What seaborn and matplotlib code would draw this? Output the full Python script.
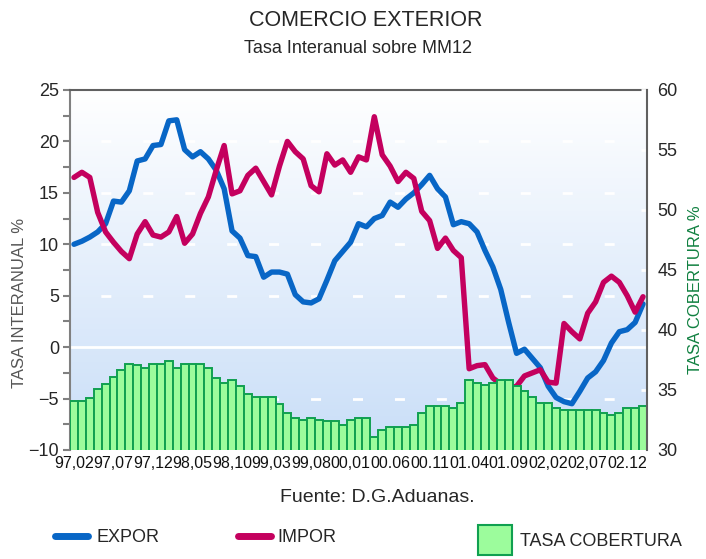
import numpy as np
import matplotlib
matplotlib.use("Agg")
import matplotlib.pyplot as plt
import seaborn as sns
from matplotlib import font_manager
from matplotlib.colors import LinearSegmentedColormap
from matplotlib.lines import Line2D
from matplotlib.patches import Patch

# monthly series, 97.02 .. 03.02
tick_labels = ["97,02", "97,07", "97,12", "98,05", "98,10", "99,03", "99,08", "00,01",
               "00.06", "00.11", "01.04", "01.09", "02,02", "02,07", "02.12"]

expor = [10.0, 10.3, 10.7, 11.2, 12.0, 14.2, 14.1, 15.2, 18.1, 18.3,
         19.6, 19.7, 22.0, 22.1, 19.2, 18.5, 19.0, 18.3, 17.2, 15.4,
         11.3, 10.6, 8.9, 8.8, 6.8, 7.3, 7.3, 7.1, 5.1, 4.4,
         4.3, 4.7, 6.5, 8.4, 9.3, 10.2, 12.0, 11.7, 12.5, 12.8,
         14.1, 13.6, 14.4, 15.0, 15.8, 16.7, 15.4, 14.6, 11.9, 12.2,
         12.0, 11.2, 9.4, 7.8, 5.6, 2.4, -0.6, -0.2, -1.1, -2.0,
         -3.8, -4.9, -5.3, -5.5, -4.3, -3.0, -2.4, -1.3, 0.4, 1.5,
         1.7, 2.4, 4.2]

impor = [16.5, 17.0, 16.5, 13.1, 11.2, 10.2, 9.3, 8.6, 11.0, 12.2,
         10.9, 10.7, 11.2, 12.7, 10.1, 11.0, 13.0, 14.6, 17.2, 19.6,
         14.9, 15.2, 16.7, 17.4, 16.1, 14.8, 17.6, 20.0, 19.0, 18.3,
         15.7, 15.1, 18.8, 17.7, 18.2, 17.0, 18.5, 18.2, 22.4, 18.7,
         17.6, 16.1, 17.0, 16.4, 13.2, 12.3, 9.6, 10.6, 9.4, 8.7,
         -2.1, -1.8, -1.7, -3.0, -3.6, -4.0, -3.8, -2.8, -2.5, -2.2,
         -3.4, -3.5, 2.3, 1.5, 0.8, 3.3, 4.4, 6.3, 6.9, 6.3,
         5.0, 3.4, 4.9]

cobertura = [34.1, 34.1, 34.3, 35.1, 35.5, 36.1, 36.7, 37.2, 37.1, 36.8,
             37.2, 37.2, 37.4, 36.8, 37.2, 37.2, 37.2, 36.8, 36.0, 35.6,
             35.8, 35.3, 34.7, 34.4, 34.4, 34.4, 33.8, 33.1, 32.7, 32.5,
             32.7, 32.5, 32.4, 32.4, 32.1, 32.5, 32.7, 32.7, 31.1, 31.7,
             31.9, 31.9, 31.9, 32.1, 33.1, 33.7, 33.7, 33.7, 33.5, 33.9,
             35.8, 35.6, 35.4, 35.6, 35.8, 35.8, 35.3, 34.9, 34.4, 33.9,
             33.9, 33.5, 33.3, 33.3, 33.3, 33.3, 33.3, 33.1, 32.9, 33.1,
             33.5, 33.5, 33.7]

blue = "#0866C6"
red = "#C4005E"
bar_fill = "#9CFC9C"
bar_edge = "#10A050"

sns.set_style("white")
names = {f.name for f in font_manager.fontManager.ttflist}
narrow = "Liberation Sans Narrow" if "Liberation Sans Narrow" in names else "Liberation Sans"
plt.rcParams["font.family"] = ["Liberation Sans", "DejaVu Sans"]

idx = np.arange(len(expor))

fig = plt.figure(figsize=(7.06, 5.59), dpi=100)
ax = fig.add_axes([0.0992, 0.195, 0.8172, 0.644])
ax2 = ax.twinx()

# gradient background of the plot area
cmap = LinearSegmentedColormap.from_list("bg", ["#C9DEF8", "#FFFFFF"])
ax.imshow(np.linspace(1, 0, 200).reshape(-1, 1), cmap=cmap, extent=[0, 1, 0, 1],
          transform=ax.transAxes, aspect="auto", zorder=0)

# grid
for v in [20, 15, 10, 5, -5]:
    ax.axhline(v, color="white", lw=2, ls=(4, (3.6, 11.5)), zorder=1)
ax.axhline(0, color="white", lw=2, zorder=1)

sns.lineplot(x=idx, y=expor, ax=ax, color=blue, lw=3.9, zorder=3,
             solid_joinstyle="round")
sns.lineplot(x=idx, y=impor, ax=ax, color=red, lw=3.9, zorder=3,
             solid_joinstyle="round")

# coverage bars on the right axis, drawn over the lines as in the original
sns.barplot(x=idx, y=cobertura, ax=ax2, color=bar_fill, edgecolor=bar_edge,
            linewidth=1.4, width=1.0, saturation=1)

ax.set_ylim(-10, 25)
ax2.set_ylim(30, 60)
ax.set_xlim(-0.5, len(idx) - 0.5)
ax.set_xticks(range(0, 71, 5))
ax.set_xticklabels(tick_labels, fontfamily=narrow, fontsize=11.5)
ax.set_yticks(range(-10, 26, 5))
ax.set_yticks(np.arange(-10, 25.1, 2.5), minor=True)
ax2.set_yticks(range(30, 61, 5))

ax.tick_params(axis="x", length=0, pad=4, colors="#111111")
ax.tick_params(axis="y", which="both", direction="out", length=5, width=1.5,
               color="#808080", labelsize=13, pad=3)
ax2.tick_params(axis="y", direction="inout", length=9, width=2, color="white",
                labelsize=13, pad=3)
ax.set_xlabel("")
ax.set_ylabel("")
ax2.set_xlabel("")
ax2.set_ylabel("")

for s in ["right", "bottom"]:
    ax.spines[s].set_visible(False)
for s in ["left", "top", "bottom"]:
    ax2.spines[s].set_visible(False)
ax.spines["left"].set_color("#808080")
ax.spines["left"].set_linewidth(1.5)
ax.spines["top"].set_color("#606060")
ax.spines["top"].set_linewidth(1.5)
ax2.spines["right"].set_color("#606060")
ax2.spines["right"].set_linewidth(1.5)

# titles and axis names
fig.text(0.518, 0.963, "COMERCIO EXTERIOR", ha="center", va="center",
         fontsize=15.5, fontfamily=narrow)
fig.text(0.507, 0.913, "Tasa Interanual sobre MM12", ha="center", va="center",
         fontsize=13)
fig.text(20 / 706, 1 - 303 / 559, "TASA INTERANUAL %", rotation=90,
         ha="center", va="center", fontsize=12, color="#555555")
fig.text(695 / 706, 1 - 290 / 559, "TASA COBERTURA %", rotation=90,
         ha="center", va="center", fontsize=12, color="#108040")
fig.text(377 / 706, 1 - 497 / 559, "Fuente: D.G.Aduanas.", ha="center",
         va="center", fontsize=14)

# legend entries
leg_font = {"family": narrow, "size": 13}
fig.legend(handles=[Line2D([], [], color=blue, lw=5)], labels=["EXPOR"],
           loc="center left", bbox_to_anchor=(55 / 706, 1 - 538 / 559),
           frameon=False, borderpad=0, borderaxespad=0, handlelength=1.85,
           handletextpad=0.45, prop=leg_font)
fig.legend(handles=[Line2D([], [], color=red, lw=5)], labels=["IMPOR"],
           loc="center left", bbox_to_anchor=(238 / 706, 1 - 538 / 559),
           frameon=False, borderpad=0, borderaxespad=0, handlelength=1.85,
           handletextpad=0.35, prop=leg_font)
fig.legend(handles=[Patch(facecolor=bar_fill, edgecolor=bar_edge, lw=1.5)],
           labels=["TASA COBERTURA"], loc="center left",
           bbox_to_anchor=(478 / 706, 1 - 540 / 559), frameon=False,
           borderpad=0, borderaxespad=0, handlelength=1.9, handleheight=2.2,
           handletextpad=0.4, prop=leg_font)

fig.savefig("out.png", dpi=100)
